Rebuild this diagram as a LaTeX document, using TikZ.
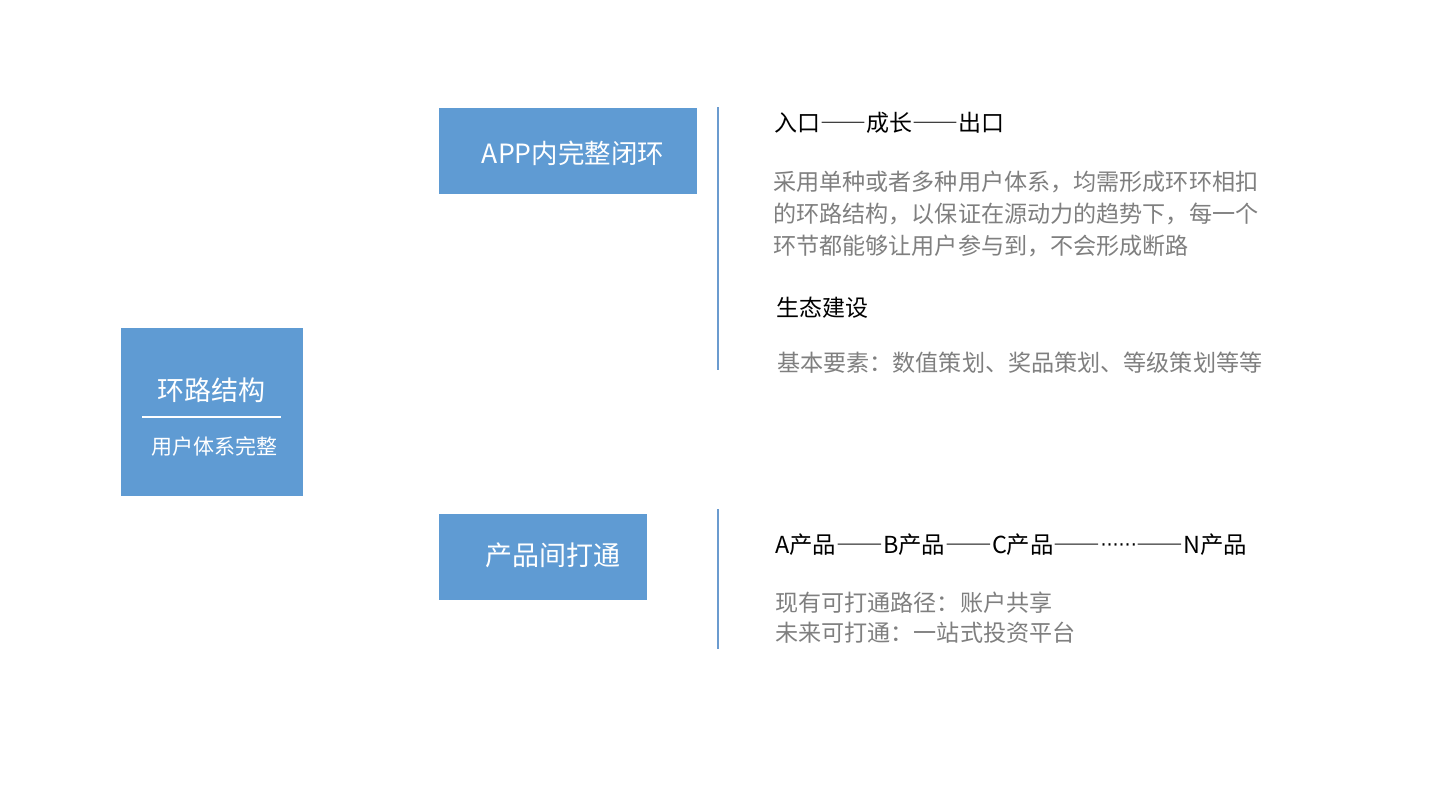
\documentclass[tikz,border=0pt]{standalone}
\usepackage{fontspec}
\setmainfont{Noto Sans CJK SC}
\newfontfamily\fwfont{Noto Sans CJK SC}[RawFeature=+fwid]
\newfontfamily\dotfont{DejaVu Sans}
\newcommand{\fwdash}{{\fwfont ——}}
\newcommand{\middots}{\raisebox{2.5pt}{\dotfont\fontsize{19}{20}\selectfont ······}}
\usetikzlibrary{calc}
\definecolor{boxblue}{HTML}{5F9BD3}
\definecolor{linblue}{HTML}{6B9BCF}
\definecolor{txtgray}{HTML}{7F7F7F}
\tikzset{
  bluebox/.style={fill=boxblue, draw=none, inner sep=0, anchor=north west},
  boxtext/.style={text=white, inner sep=0, font=\fontsize{27}{30}\selectfont},
  headtext/.style={text=black, inner sep=0, anchor=west, font=\fontsize{23}{30}\selectfont},
  graytext/.style={text=txtgray, inner sep=0, anchor=west, align=left, font=\fontsize{23.1}{32}\selectfont},
  vline/.style={draw=linblue, line width=2pt},
}
\begin{document}
\begin{tikzpicture}[x=1pt, y=-1pt]
\useasboundingbox (0,0) rectangle (1448,800);
% left box
\node[bluebox, minimum width=182pt, minimum height=168pt] (root) at (121,328) {};
\node[boxtext] (roott) at (211,390) {环路结构};
\node[boxtext, font=\fontsize{21}{24}\selectfont] (roots) at (214,446) {用户体系完整};
\coordinate (rl1) at (142,417);
\coordinate (rl2) at (281,417);
\draw[white, line width=1.5pt] (rl1) -- (rl2);
% box 1
\node[bluebox, minimum width=258pt, minimum height=86pt] (b1) at (439,108) {};
\node[boxtext, font=\fontsize{26.5}{30}\selectfont] (b1t) at (573,153) {APP内完整闭环};
% box 2
\node[bluebox, minimum width=208pt, minimum height=86pt] (b2) at (439,514) {};
\node[boxtext] (b2t) at (553,555) {产品间打通};
% vertical lines
\coordinate (v1a) at (717.5,107);
\coordinate (v1b) at (717.5,370);
\coordinate (v2a) at (717.5,509);
\coordinate (v2b) at (717.5,649);
\draw[vline] (v1a) -- (v1b);
\draw[vline] (v2a) -- (v2b);
% texts top
\node[headtext] (h1) at (774,123) {入口\fwdash 成长\fwdash 出口};
\node[graytext] (p1) at (773,214) {采用单种或者多种用户体系，均需形成环环相扣\\的环路结构，以保证在源动力的趋势下，每一个\\环节都能够让用户参与到，不会形成断路};
\node[headtext] (h2) at (776,308) {生态建设};
\node[graytext] (p2) at (777,363) {基本要素：数值策划、奖品策划、等级策划等等};
% texts bottom
\node[headtext, font=\fontsize{23.4}{30}\selectfont] (h3) at (775,545) {A产品\fwdash B产品\fwdash C产品\fwdash\middots\fwdash N产品};
\node[graytext, font=\fontsize{23.1}{30}\selectfont] (p3) at (775,618) {现有可打通路径：账户共享\\未来可打通：一站式投资平台};
\end{tikzpicture}
\end{document}
